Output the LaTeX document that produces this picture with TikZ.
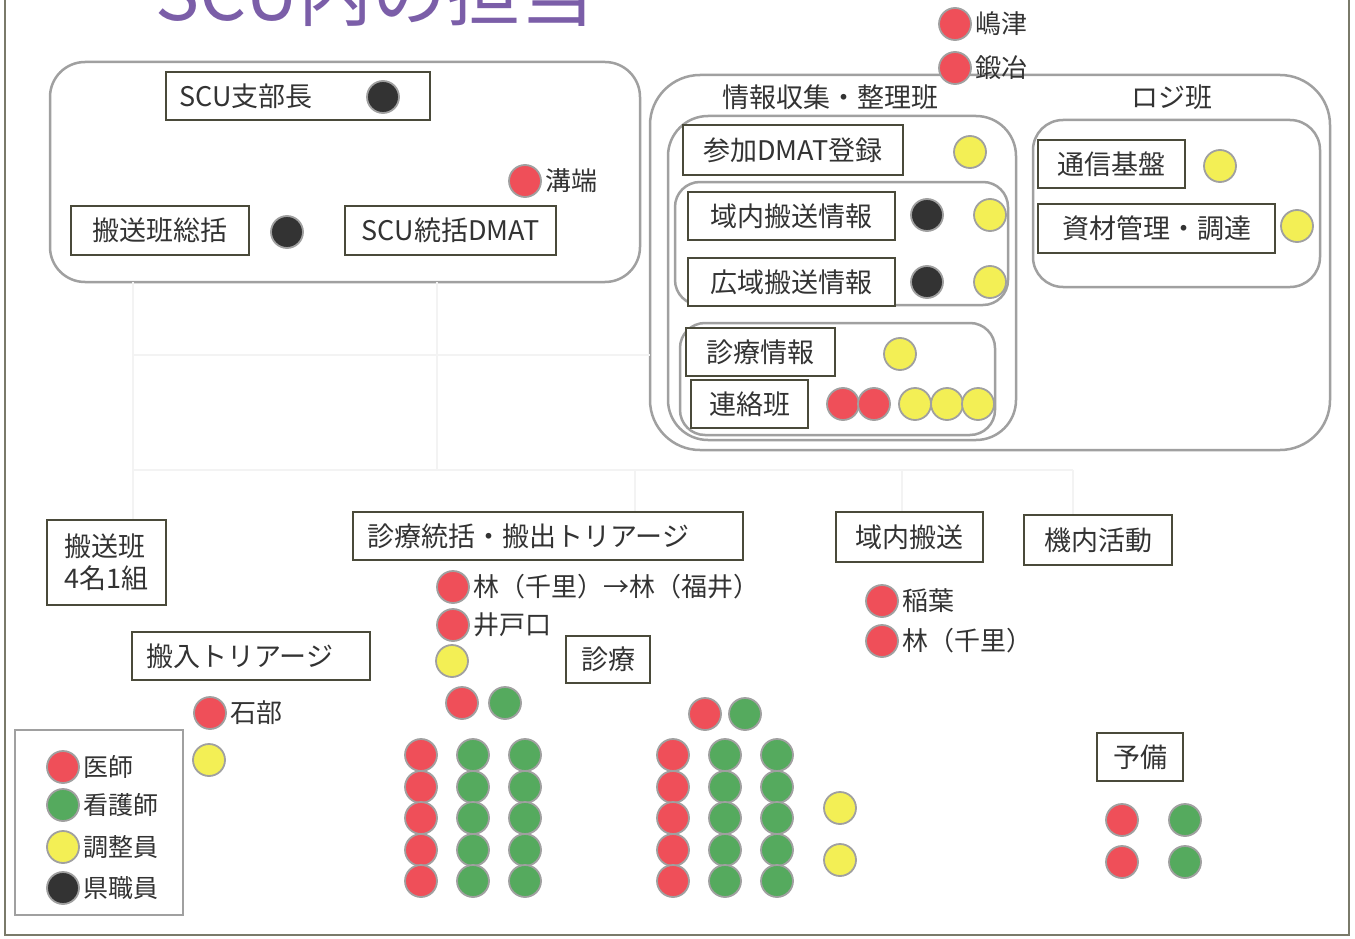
\documentclass[tikz,border=0pt]{standalone}
\usepackage{fontspec}
\setmainfont{Noto Sans CJK JP}
\definecolor{dred}{HTML}{EF4F59}
\definecolor{dgreen}{HTML}{55AA5E}
\definecolor{dyellow}{HTML}{F3EF55}
\definecolor{dblack}{HTML}{333333}
\definecolor{ring}{HTML}{A0A0A0}
\definecolor{boxline}{HTML}{4A4A3A}
\definecolor{txtcol}{HTML}{333333}
\definecolor{titlecol}{HTML}{7B5EA8}
\definecolor{faint}{HTML}{F3F3F3}
\definecolor{framecol}{HTML}{7A7A6A}
\begin{document}
\begin{tikzpicture}[x=1pt,y=-1pt,
  box/.style={draw=boxline, line width=1.4, fill=white, inner sep=0, minimum height=48, font=\fontsize{27}{32}\selectfont, text=txtcol},
  grp/.style={draw=ring, line width=2.5},
  dot/.style={circle, inner sep=0, minimum size=32, draw=ring, line width=1.8},
  rd/.style={dot, fill=dred},
  gn/.style={dot, fill=dgreen},
  yl/.style={dot, fill=dyellow},
  bk/.style={dot, fill=dblack},
  nm/.style={anchor=west, inner sep=1, xshift=2, font=\fontsize{26}{30}\selectfont, text=txtcol},
  hd/.style={inner sep=0, font=\fontsize{27}{32}\selectfont, text=txtcol},
  conn/.style={draw=faint, line width=1.2}]
\useasboundingbox (0,0) rectangle (1355,939);
\fill[white] (0,0) rectangle (1355,939);
% frame
\draw[framecol, line width=1.5] (5,-10) -- (5,935) -- (1349,935) -- (1349,-10);
% title
\node[anchor=base west, inner sep=0, text=titlecol, font=\fontsize{74}{84}\selectfont] (title) at (155,21) {SCU内の担当};

% faint connectors
\coordinate (c1) at (133,282);
\coordinate (c2) at (437,282);
\coordinate (c3) at (133,355);
\coordinate (c4) at (650,355);
\coordinate (c5) at (133,470);
\coordinate (c6) at (1073,470);
\coordinate (c7) at (635,470);
\coordinate (c8) at (902,470);

% groups
\draw[grp, rounded corners=35] (50,62) rectangle (640,282);
\draw[grp, rounded corners=50] (650,75) rectangle (1330,450);
\draw[grp, rounded corners=40] (668,116) rectangle (1016,440);
\draw[grp, rounded corners=25] (675,182) rectangle (1008,305);
\draw[grp, rounded corners=25] (680,323) rectangle (995,435);
\draw[grp, rounded corners=30] (1033,120) rectangle (1320,287);

% top-left group
\node[box, minimum width=264] (bscu) at (298,96) {};
\node[hd, anchor=west] (tscu) at ([xshift=14]bscu.west) {SCU支部長};
\node[bk] (d1) at (383,97) {};
\node[rd] (d2) at (525,181) {};
\node[nm] at (d2.east) {溝端};
\node[box, minimum width=178, minimum height=49] (bhsk) at (160,230.5) {搬送班総括};
\node[bk] (d3) at (287,232) {};
\node[box, minimum width=211, minimum height=49] (bscud) at (450.5,230.5) {SCU統括DMAT};

% top names
\node[rd] (d4) at (955,24) {};
\node[nm] at (d4.east) {嶋津};
\node[rd] (d5) at (955,68) {};
\node[nm] at (d5.east) {鍛冶};

% info group
\node[hd] (hinfo) at (830,97) {情報収集・整理班};
\node[hd] (hlogi) at (1172,97) {ロジ班};
\node[box, minimum width=220, minimum height=50] (bsan) at (793,150) {参加DMAT登録};
\node[yl] (d6) at (970,152) {};
\node[box, minimum width=207] (biki) at (791.5,216) {域内搬送情報};
\node[bk] (d7) at (927,215) {};
\node[yl] (d8) at (990,215) {};
\node[box, minimum width=207] (bkoi) at (791.5,282) {広域搬送情報};
\node[bk] (d9) at (927,282) {};
\node[yl] (d10) at (990,282) {};
\node[box, minimum width=149] (bshin) at (760.5,352) {診療情報};
\node[yl] (d11) at (900,354) {};
\node[box, minimum width=117] (bren) at (749.5,404) {連絡班};
\node[rd] (d12) at (843,404) {};
\node[rd] (d13) at (874,404) {};
\node[yl] (d14) at (915,404) {};
\node[yl] (d15) at (947,404) {};
\node[yl] (d16) at (978,404) {};
% logi
\node[box, minimum width=147] (btsu) at (1111.5,164) {通信基盤};
\node[yl] (d17) at (1220,166) {};
\node[box, minimum width=237, minimum height=49] (bshi) at (1156.5,228.5) {資材管理・調達};
\node[yl] (d18) at (1297,226) {};

% bottom boxes
\node[box, minimum width=119, minimum height=85, align=left, font=\fontsize{27}{32}\selectfont] (bhan) at (106.5,562.5) {搬送班\\4名1組};
\node[box, minimum width=390] (bsto) at (548,536) {};
\node[hd, anchor=west] at ([xshift=15]bsto.west) {診療統括・搬出トリアージ};
\node[box, minimum width=84, minimum height=47] (bsr) at (608,659.5) {診療};
\node[box, minimum width=238] (bhi) at (251,656) {};
\node[hd, anchor=west] at ([xshift=15]bhi.west) {搬入トリアージ};
\node[box, minimum width=147, minimum height=50] (biks) at (909.5,537) {域内搬送};
\node[box, minimum width=148, minimum height=50] (bki) at (1098,540) {機内活動};
\node[box, minimum width=86] (byo) at (1140,757) {予備};

% connectors (faint)
\draw[conn] (c1) -- (c1 |- bhan.north);
\draw[conn] (c3) -- (c4);
\draw[conn] (c2) -- (c2 |- c5);
\draw[conn] (c5) -- (c6);
\draw[conn] (c7) -- (c7 |- bsto.north);
\draw[conn] (c8) -- (c8 |- biks.north);
\draw[conn] (c6) -- (c6 |- bki.north);

% names bottom
\node[rd] (e1) at (453,587) {};
\node[nm] at (e1.east) {林（千里）→林（福井）};
\node[rd] (e2) at (453,625) {};
\node[nm] at (e2.east) {井戸口};
\node[yl] (e3) at (452,661) {};
\node[rd] (e4) at (210,713) {};
\node[nm] at (e4.east) {石部};
\node[yl] (e5) at (209,760) {};
\node[rd] (e6) at (882,601) {};
\node[nm] at (e6.east) {稲葉};
\node[rd] (e7) at (882,641) {};
\node[nm] at (e7.east) {林（千里）};

% clinical teams
\node[rd] (f1) at (462,703) {};
\node[gn] (f2) at (505,703) {};
\node[rd] (f3) at (705,714) {};
\node[gn] (f4) at (745,714) {};
\foreach \yy [count=\i] in {755,787,818,850,881} {
  \node[rd] (ga\i) at (421,\yy) {};
  \node[gn] (gb\i) at (473,\yy) {};
  \node[gn] (gc\i) at (525,\yy) {};
  \node[rd] (ha\i) at (673,\yy) {};
  \node[gn] (hb\i) at (725,\yy) {};
  \node[gn] (hc\i) at (777,\yy) {};
}
\node[yl] (y1) at (840,808) {};
\node[yl] (y2) at (840,860) {};

% reserve
\node[rd] (r1) at (1122,820) {};
\node[gn] (r2) at (1185,820) {};
\node[rd] (r3) at (1122,862) {};
\node[gn] (r4) at (1185,862) {};

% legend
\node[draw=ring, line width=2, minimum width=168, minimum height=185, inner sep=0] (leg) at (99,822.5) {};
\node[rd] (l1) at (63,767) {};
\node[nm, font=\fontsize{25}{30}\selectfont] at (l1.east) {医師};
\node[gn] (l2) at (63,805) {};
\node[nm, font=\fontsize{25}{30}\selectfont] at (l2.east) {看護師};
\node[yl] (l3) at (63,847) {};
\node[nm, font=\fontsize{25}{30}\selectfont] at (l3.east) {調整員};
\node[bk] (l4) at (63,888) {};
\node[nm, font=\fontsize{25}{30}\selectfont] at (l4.east) {県職員};
\end{tikzpicture}
\end{document}
